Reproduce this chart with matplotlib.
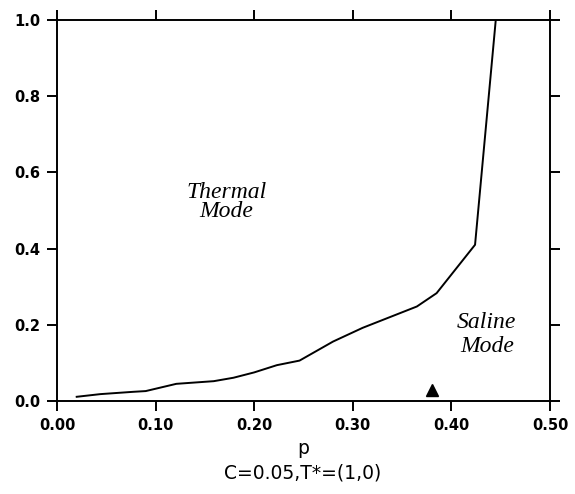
import numpy as np
import matplotlib
matplotlib.use('Agg')
import matplotlib.pyplot as plt

# ── Data ────────────────────────────────────────────────────────────────────
p_vals = [0.020, 0.044, 0.077, 0.090, 0.121, 0.159, 0.179, 0.200, 0.223,
          0.246, 0.280, 0.310, 0.365, 0.385, 0.424, 0.445]
boundary = [0.011, 0.018, 0.024, 0.026, 0.045, 0.052, 0.061, 0.075, 0.094,
            0.106, 0.156, 0.192, 0.248, 0.283, 0.410, 1.000]
marker_p = [0.380]
marker_y = [0.029]

x_ticks = [0.0, 0.1, 0.2, 0.3, 0.4, 0.5]
x_labels = ['0.00', '0.10', '0.20', '0.30', '0.40', '0.50']
y_ticks = [0.0, 0.2, 0.4, 0.6, 0.8, 1.0]
y_labels = ['0.0', '0.2', '0.4', '0.6', '0.8', '1.0']

# ── Figure ──────────────────────────────────────────────────────────────────
fig = plt.figure(figsize=(5.75, 4.94), dpi=100)
ax = fig.add_axes([0.0991, 0.1883, 0.8574, 0.7712])

ax.plot(p_vals, boundary, color='black', lw=1.4)
ax.plot(marker_p, marker_y, marker='^', color='black', ms=9, ls='none')

ax.set_xlim(0.0, 0.5)
ax.set_ylim(0.0, 1.0)

tick_font = dict(family='DejaVu Sans', size=10.5, weight='bold')
ax.set_xticks(x_ticks)
ax.set_xticklabels(x_labels, **tick_font)
ax.set_yticks(y_ticks)
ax.set_yticklabels(y_labels, **tick_font)
ax.tick_params(direction='out', length=7, width=1.4, top=True, right=True,
               labeltop=False, labelright=False, pad=5)
for s in ax.spines.values():
    s.set_linewidth(1.4)

serif = dict(family='Liberation Serif', style='italic', size=17,
             ha='center', va='center')
ax.text(0.172, 0.548, 'Thermal', **serif)
ax.text(0.172, 0.497, 'Mode', **serif)
ax.text(0.436, 0.207, 'Saline', **serif)
ax.text(0.436, 0.142, 'Mode', **serif)

fig.text(0.527, 0.093, 'p', ha='center', va='center', fontsize=13.5,
         family='DejaVu Sans')
fig.text(0.527, 0.043, 'C=0.05,T*=(1,0)', ha='center', va='center',
         fontsize=13.5, family='DejaVu Sans')

fig.savefig('out.png', dpi=100)
